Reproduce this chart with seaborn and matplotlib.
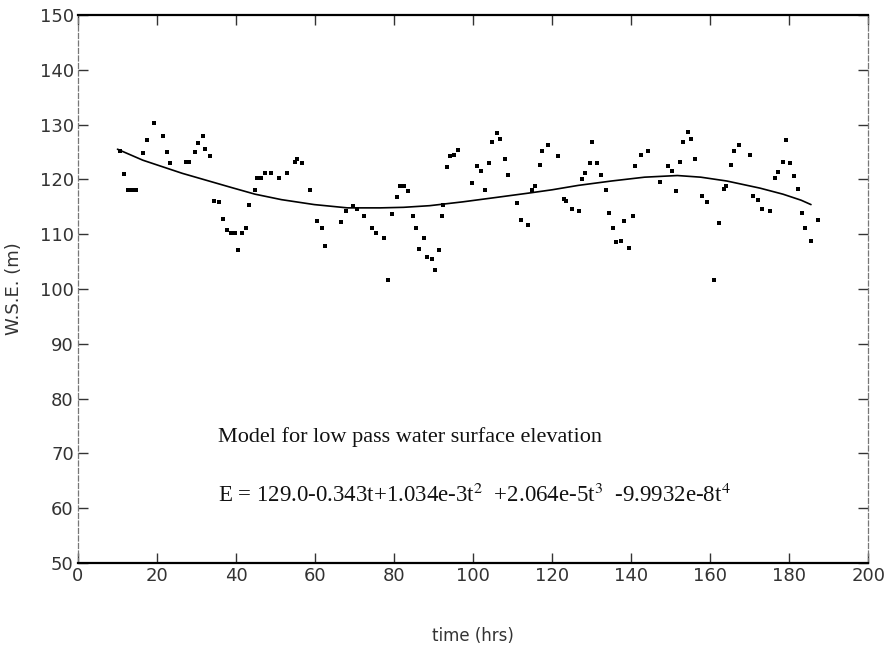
import matplotlib
matplotlib.use("Agg")
import matplotlib.pyplot as plt
import seaborn as sns
import pandas as pd

# Observed water surface elevation samples (time in hrs, W.S.E. in m)
obs_t = [10.7, 11.6, 12.6, 13.6, 14.6, 16.4, 17.4, 19.3, 21.4, 22.6, 23.4, 27.4, 28.2,
         29.6, 30.3, 31.6, 32.2, 33.5, 34.5, 35.6, 36.6, 37.8, 38.8, 39.8, 40.6, 41.6,
         42.6, 43.4, 44.8, 45.3, 46.2, 47.4, 48.9, 51.0, 53.0, 54.8, 55.5, 56.8, 58.6,
         60.5, 61.7, 62.5, 66.5, 67.9, 69.7, 70.7, 72.5, 74.5, 75.3, 77.4, 78.5, 79.4,
         80.7, 81.4, 82.5, 83.5, 84.7, 85.5, 86.4, 87.5, 88.3, 89.5, 90.3, 91.4, 92.2,
         92.4, 93.4, 94.2, 95.1, 96.1, 99.7, 100.9, 102.1, 102.9, 104.1, 104.9, 106.1,
         106.9, 108.0, 108.9, 111.0, 112.1, 113.8, 115.0, 115.6, 116.8, 117.5, 119.0,
         121.5, 122.9, 123.6, 125.0, 126.8, 127.5, 128.3, 129.5, 130.2, 131.3, 132.3,
         133.5, 134.3, 135.5, 136.2, 137.5, 138.3, 139.5, 140.4, 141.0, 142.4, 144.2,
         147.2, 149.2, 150.4, 151.4, 152.4, 153.1, 154.4, 155.1, 156.1, 158.0, 159.2,
         161.0, 162.2, 163.4, 164.1, 165.3, 166.1, 167.4, 170.1, 170.9, 172.2, 173.0,
         175.1, 176.3, 177.1, 178.3, 179.1, 180.1, 181.1, 182.3, 183.3, 184.0, 185.5,
         187.2]
obs_wse = [125.2, 121.0, 118.0, 118.0, 118.0, 124.9, 127.2, 130.3, 128.0, 125.0, 123.0,
           123.1, 123.1, 125.0, 126.7, 128.0, 125.5, 124.2, 116.1, 115.8, 112.7, 110.7,
           110.2, 110.2, 107.2, 110.2, 111.1, 115.3, 118.1, 120.3, 120.3, 121.1, 121.1,
           120.3, 121.1, 123.2, 123.7, 122.9, 118.1, 112.4, 111.2, 107.8, 112.3, 114.2,
           115.2, 114.6, 113.3, 111.1, 110.2, 109.3, 101.6, 113.7, 116.7, 118.8, 118.8,
           117.8, 113.4, 111.2, 107.3, 109.3, 105.8, 105.4, 103.4, 107.2, 113.4, 115.3,
           122.3, 124.3, 124.4, 125.3, 119.4, 122.4, 121.6, 118.1, 122.9, 126.8, 128.5,
           127.4, 123.8, 120.8, 115.6, 112.5, 111.6, 118.1, 118.8, 122.6, 125.2, 126.3,
           124.3, 116.5, 116.0, 114.6, 114.2, 120.1, 121.2, 122.9, 126.8, 122.9, 120.8,
           118.1, 113.8, 111.1, 108.6, 108.8, 112.4, 107.4, 113.3, 122.5, 124.4, 125.2,
           119.5, 122.5, 121.6, 117.9, 123.1, 126.8, 128.6, 127.4, 123.8, 116.9, 115.8,
           101.6, 112.0, 118.2, 118.8, 122.6, 125.2, 126.3, 124.4, 116.9, 116.3, 114.6,
           114.2, 120.3, 121.4, 123.1, 127.1, 123.0, 120.7, 118.2, 113.9, 111.2, 108.8,
           112.6]

# Low pass model curve
model_t = [10.0, 16.4, 26.4, 38.9, 44.8, 51.5, 59.8, 68.2, 76.5, 82.4, 89.0, 97.4,
           105.8, 114.1, 120.0, 126.6, 135.0, 143.4, 151.7, 157.6, 164.2, 172.6,
           178.4, 183.0, 185.5]
model_wse = [125.5, 123.5, 121.1, 118.5, 117.3, 116.3, 115.4, 114.8, 114.8, 114.9,
             115.2, 115.9, 116.7, 117.5, 118.1, 118.9, 119.7, 120.4, 120.7, 120.4,
             119.7, 118.4, 117.3, 116.2, 115.4]

xticks = [0, 20, 40, 60, 80, 100, 120, 140, 160, 180, 200]
yticks = [50, 60, 70, 80, 90, 100, 110, 120, 130, 140, 150]

obs = pd.DataFrame({"t": obs_t, "wse": obs_wse})
model = pd.DataFrame({"t": model_t, "wse": model_wse})

sns.set_style("ticks")
plt.rcParams["font.family"] = ["DejaVu Sans"]
plt.rcParams["mathtext.fontset"] = "stix"

fig = plt.figure(figsize=(8.9, 6.48), dpi=100)
ax = fig.add_axes([0.0876, 0.131, 0.888, 0.846])

sns.scatterplot(data=obs, x="t", y="wse", ax=ax, color="black", s=6,
                linewidth=0, marker="s", legend=False)
sns.lineplot(data=model, x="t", y="wse", ax=ax, color="black", linewidth=1.2,
             legend=False, sort=True)

ax.set_xlim(0, 200)
ax.set_ylim(50, 150)
ax.set_xticks(xticks)
ax.set_yticks(yticks)
ax.set_xticklabels([str(v) for v in xticks], fontsize=13, color="#333333")
ax.set_yticklabels([str(v) for v in yticks], fontsize=13, color="#333333")
ax.tick_params(direction="in", length=7, width=1, top=True, right=True,
               labelright=False, labeltop=False, pad=3, color="#333333")
ax.set_xlabel("time (hrs)", fontsize=12, color="#333333", labelpad=30)
ax.set_ylabel("W.S.E. (m)", fontsize=13, color="#333333", labelpad=12)

for side in ["top", "bottom"]:
    ax.spines[side].set_linewidth(1.6)
    ax.spines[side].set_color("black")
for side in ["left", "right"]:
    ax.spines[side].set_linewidth(0.9)
    ax.spines[side].set_color("#777777")
    ax.spines[side].set_linestyle((0, (4, 2)))

serif = ["Liberation Serif", "DejaVu Serif"]
ax.text(35.5, 73.0, "Model for low pass water surface elevation",
        fontsize=16, family=serif, color="#111111", va="center")
ax.text(35.5, 62.4,
        r"E = 129.0-0.343t+1.034e-3t$^{2}$  +2.064e-5t$^{3}$  -9.9932e-8t$^{4}$",
        fontsize=16.5, family=serif, color="#111111", va="center")

fig.savefig("out.png", dpi=100)
